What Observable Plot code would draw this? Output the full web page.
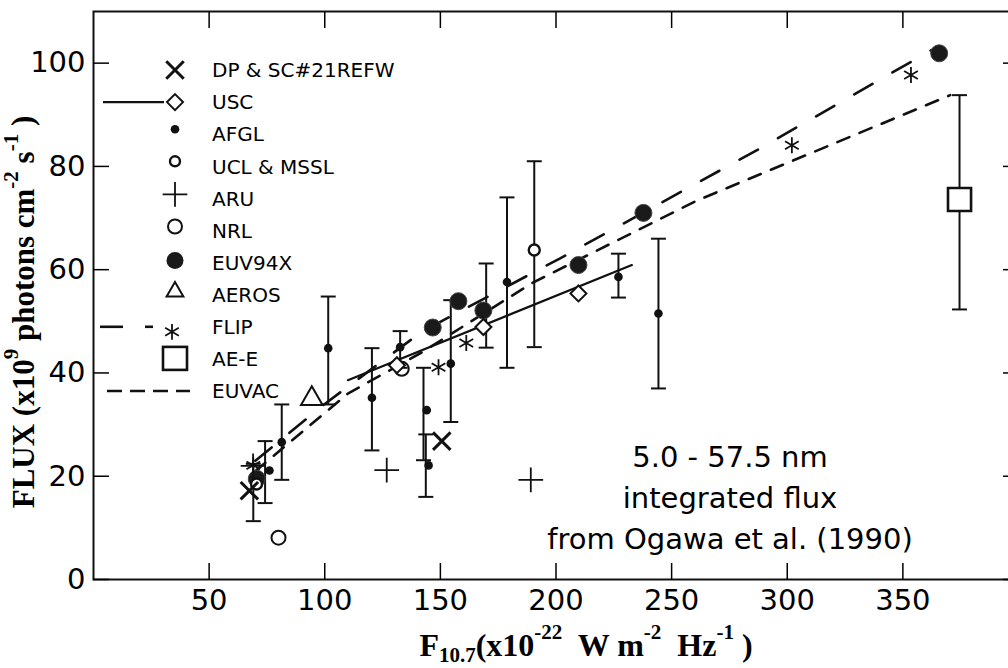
<!DOCTYPE html>
<html><head><meta charset="utf-8">
<script src="https://cdn.jsdelivr.net/npm/d3@7"></script>
<script src="https://cdn.jsdelivr.net/npm/@observablehq/plot@0.6"></script>
<style>
html,body{margin:0;padding:0;background:#fff;overflow:hidden;}
#chart{position:relative;width:1008px;height:668px;}
</style>
</head><body><div id="chart"></div>
<script>
// ---------- data ----------
const xTicks = [50, 100, 150, 200, 250, 300, 350];
const yTicks = [0, 20, 40, 60, 80, 100];

const dpX = [67.4, 150.6];
const dpY = [17.2, 26.8];
const uscX = [131.2, 168.6, 209.7];
const uscY = [41.5, 48.9, 55.4];
const uscLineX = [110, 232.8];
const uscLineY = [38.6, 60.9];
const afglX = [76.1, 81.4, 101.5, 120.4, 132.6, 144.1, 144.9, 154.5, 178.8, 227.0, 244.3];
const afglY = [21.1, 26.6, 44.8, 35.2, 45.0, 32.8, 22.1, 41.8, 57.6, 58.6, 51.5];
const uclX = [70.5, 190.6];
const uclY = [18.5, 63.8];
const aruX = [69.0, 126.8, 189.1];
const aruY = [22.0, 21.2, 19.3];
const nrlX = [80.0, 133.3];
const nrlY = [8.1, 40.8];
const euvX = [70.6, 146.7, 157.8, 168.6, 209.7, 237.8, 365.7];
const euvY = [19.5, 48.8, 53.9, 52.1, 60.9, 71.0, 101.9];
const aerosX = [94.4];
const aerosY = [35.0];
const flipX = [69.1, 149.2, 161.2, 302.0, 353.5];
const flipY = [22.1, 41.1, 45.8, 84.1, 97.7];
const flipLineX = [70, 100, 142, 201.8, 288.3, 365];
const flipLineY = [23, 34, 48, 62.2, 83.5, 103.2];
const aeeX = [374.5];
const aeeY = [73.6];
const euvacLineX = [70, 110, 142, 190, 261, 370.5];
const euvacLineY = [21, 36, 44, 57.5, 73.4, 93.8];
const errX  = [69.1, 74.2, 81.4, 101.5, 120.4, 132.6, 142.7, 143.7, 154.5, 169.8, 178.8, 190.6, 227.0, 244.3, 374.5];
const errLo = [11.3, 14.8, 19.3, 33.9, 25.0, 41.0, 23.1, 16.0, 30.5, 44.9, 41.0, 45.0, 54.6, 37.0, 52.3];
const errHi = [22.4, 26.8, 33.9, 54.8, 44.8, 48.1, 41.0, 28.1, 54.1, 61.2, 74.0, 81.0, 63.1, 66.0, 93.8];

const legendNames = ["DP & SC#21REFW", "USC", "AFGL", "UCL & MSSL", "ARU", "NRL", "EUV94X", "AEROS", "FLIP", "AE-E", "EUVAC"];
const noteLines = ["5.0 - 57.5 nm", "integrated flux", "from Ogawa et al. (1990)"];

// ---------- helpers ----------
const pts = (xs, ys) => xs.map((x, i) => ({x, y: ys[i]}));
const capSym = {draw(c, s) { const r = Math.sqrt(s / Math.PI); c.moveTo(-r, 0); c.lineTo(r, 0); }};
const diamondSym = {draw(c, s) { const r = Math.sqrt(s / Math.PI); c.moveTo(0, -r); c.lineTo(r, 0); c.lineTo(0, r); c.lineTo(-r, 0); c.closePath(); }};
const errs = errX.map((x, i) => ({x, lo: errLo[i], hi: errHi[i]}));

const K = "#111";
const plot = Plot.plot({
  width: 1008, height: 668,
  marginLeft: 93, marginRight: -10, marginTop: 11, marginBottom: 89,
  x: {domain: [0, 400]},
  y: {domain: [0, 110]},
  style: {fontFamily: "DejaVu Sans", fontSize: "29px", color: "#000", background: "#fff", overflow: "visible"},
  marks: [
    Plot.frame({stroke: K, strokeWidth: 2}),
    Plot.axisY(yTicks, {anchor: "left", tickSize: -16, tickPadding: 24, label: null, strokeWidth: 1.5}),
    Plot.axisY(yTicks, {anchor: "right", tickSize: -16, tickFormat: () => "", label: null, strokeWidth: 1.5}),
    Plot.axisX(xTicks, {anchor: "bottom", tickSize: -16, tickPadding: 26, label: null, strokeWidth: 1.5}),
    Plot.axisX(xTicks, {anchor: "top", tickSize: -16, tickFormat: () => "", label: null, strokeWidth: 1.5}),
    // model lines
    Plot.line(pts(flipLineX, flipLineY), {x: "x", y: "y", stroke: K, strokeWidth: 2.6, strokeDasharray: "21,23"}),
    Plot.line(pts(euvacLineX, euvacLineY), {x: "x", y: "y", stroke: K, strokeWidth: 2.6, strokeDasharray: "13,11"}),
    Plot.line(pts(uscLineX, uscLineY), {x: "x", y: "y", stroke: K, strokeWidth: 2.2}),
    // error bars
    Plot.ruleX(errs, {x: "x", y1: "lo", y2: "hi", stroke: K, strokeWidth: 2}),
    Plot.dot(errs, {x: "x", y: "lo", symbol: capSym, r: 7.5, stroke: K, strokeWidth: 2}),
    Plot.dot(errs, {x: "x", y: "hi", symbol: capSym, r: 7.5, stroke: K, strokeWidth: 2}),
    // points
    Plot.dot(pts(euvX, euvY), {x: "x", y: "y", r: 8.5, fill: "#1a1a1a", stroke: "#444", strokeWidth: 1}),
    Plot.dot(pts(afglX, afglY), {x: "x", y: "y", r: 4.3, fill: K}),
    Plot.dot(pts(uclX, uclY), {x: "x", y: "y", r: 5.5, fill: "#fff", stroke: K, strokeWidth: 2.4}),
    Plot.dot(pts(nrlX, nrlY), {x: "x", y: "y", r: 7, fill: "none", stroke: K, strokeWidth: 2}),
    Plot.dot(pts(uscX, uscY), {x: "x", y: "y", symbol: diamondSym, r: 8, fill: "#fff", stroke: K, strokeWidth: 2}),
    Plot.dot(pts(aruX, aruY), {x: "x", y: "y", symbol: "plus", r: 8, stroke: K, strokeWidth: 1.8}),
    Plot.dot(pts(dpX, dpY), {x: "x", y: "y", symbol: "times", r: 8, stroke: K, strokeWidth: 3}),
    Plot.dot(pts(aerosX, aerosY), {x: "x", y: "y", symbol: "triangle", r: 8, fill: "none", stroke: K, strokeWidth: 2}),
    Plot.dot(pts(flipX, flipY), {x: "x", y: "y", symbol: "asterisk", r: 7.5, stroke: K, strokeWidth: 1.8}),
    Plot.dot(pts(aeeX, aeeY), {x: "x", y: "y", symbol: "square", r: 13, fill: "#fff", stroke: K, strokeWidth: 2.6})
  ]
});
document.getElementById("chart").appendChild(plot);

// ---------- legend, titles, note ----------
const svg = d3.select(plot);
const sym = (type, r) => d3.symbol(type, Math.PI * r * r)();
const lg = svg.append("g").attr("font-family", "DejaVu Sans").attr("font-size", 20).attr("text-anchor", "start");
const mx = 175, tx = 212, y0 = 70, dyRow = 32.1;
const markers = [
  g => g.append("path").attr("d", sym(d3.symbolTimes, 8)).attr("stroke", K).attr("stroke-width", 3).attr("fill", "none"),
  g => { g.append("line").attr("x1", 103 - mx).attr("x2", 164 - mx).attr("stroke", K).attr("stroke-width", 2.2);
         g.append("path").attr("d", sym(diamondSym, 8)).attr("fill", "#fff").attr("stroke", K).attr("stroke-width", 2); },
  g => g.append("circle").attr("r", 4.3).attr("cy", -5).attr("fill", K),
  g => g.append("circle").attr("r", 5).attr("cy", -5).attr("fill", "#fff").attr("stroke", K).attr("stroke-width", 2.4),
  g => g.append("path").attr("d", sym(d3.symbolPlus, 8)).attr("transform", "translate(0,-4)").attr("stroke", K).attr("stroke-width", 1.8),
  g => g.append("circle").attr("r", 7).attr("cy", -4).attr("fill", "none").attr("stroke", K).attr("stroke-width", 2),
  g => g.append("circle").attr("r", 8.5).attr("cy", -2).attr("fill", "#1a1a1a"),
  g => g.append("path").attr("d", sym(d3.symbolTriangle2, 8)).attr("transform", "translate(0,-3)").attr("fill", "none").attr("stroke", K).attr("stroke-width", 2),
  g => { g.append("line").attr("x1", 100 - mx).attr("x2", 123 - mx).attr("stroke", K).attr("stroke-width", 2.6);
         g.append("line").attr("x1", 145 - mx).attr("x2", 153 - mx).attr("stroke", K).attr("stroke-width", 2.6);
         g.append("path").attr("d", sym(d3.symbolAsterisk, 7.5)).attr("transform", "translate(-3,5)").attr("stroke", K).attr("stroke-width", 1.8); },
  g => g.append("rect").attr("x", -12).attr("y", -12).attr("width", 24).attr("height", 23).attr("fill", "#fff").attr("stroke", K).attr("stroke-width", 2.6),
  g => g.append("line").attr("x1", 107 - mx).attr("x2", 190 - mx).attr("stroke", K).attr("stroke-width", 2.6).attr("stroke-dasharray", "15,8")
];
legendNames.forEach((name, i) => {
  const y = y0 + i * dyRow;
  const g = lg.append("g").attr("transform", `translate(${mx},${y})`);
  markers[i](g);
  lg.append("text").attr("x", tx).attr("y", y).attr("dy", "0.36em").text(name);
});

// y title
const yt = svg.append("text").attr("transform", "translate(34,312) rotate(-90)")
  .attr("text-anchor", "middle").attr("font-family", "Liberation Serif").attr("font-weight", "bold").attr("font-size", 31);
yt.append("tspan").text("FLUX (x10");
yt.append("tspan").attr("font-size", 21).attr("dy", "-0.75em").text("9");
yt.append("tspan").attr("dy", "0.5em").text(" photons cm");
yt.append("tspan").attr("font-size", 21).attr("dy", "-0.75em").text("-2");
yt.append("tspan").attr("dy", "0.5em").text(" s");
yt.append("tspan").attr("font-size", 21).attr("dy", "-0.75em").text("-1");
yt.append("tspan").attr("dy", "0.5em").text(" )");
// x title
const xt = svg.append("text").attr("x", 586).attr("y", 656)
  .attr("text-anchor", "middle").attr("font-family", "Liberation Serif").attr("font-weight", "bold").attr("font-size", 32);
xt.append("tspan").text("F");
xt.append("tspan").attr("font-size", 21).attr("dy", "0.3em").text("10.7");
xt.append("tspan").attr("dy", "-0.2em").text("(x10");
xt.append("tspan").attr("font-size", 21).attr("dy", "-0.8em").text("-22");
xt.append("tspan").attr("dy", "0.53em").text("  W m");
xt.append("tspan").attr("font-size", 21).attr("dy", "-0.8em").text("-2");
xt.append("tspan").attr("dy", "0.53em").text("  Hz");
xt.append("tspan").attr("font-size", 21).attr("dy", "-0.8em").text("-1");
xt.append("tspan").attr("dy", "0.53em").text(" )");
// note
const note = svg.append("g").attr("font-family", "DejaVu Sans").attr("font-size", 29).attr("text-anchor", "middle");
noteLines.forEach((s, i) => note.append("text").attr("x", 730).attr("y", 467 + i * 41).text(s));
</script>
</body></html>
